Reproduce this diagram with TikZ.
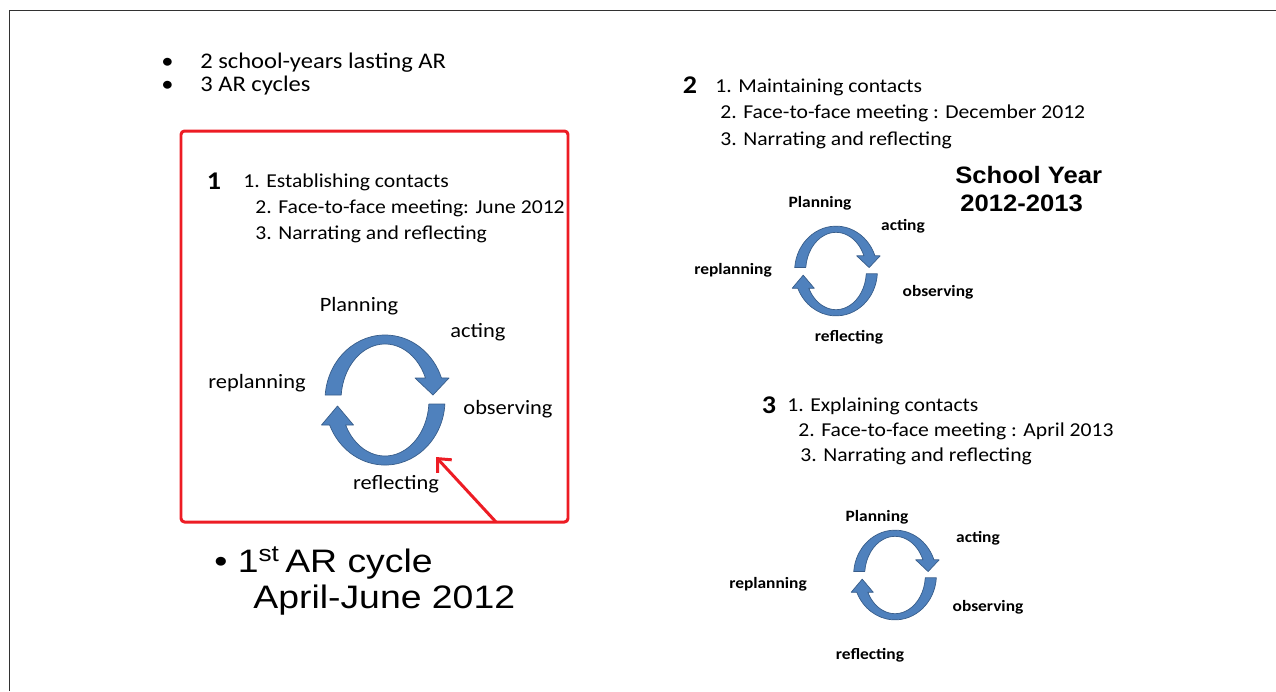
\documentclass[tikz,border=0pt]{standalone}
\usepackage{fontspec}
\setmainfont{Carlito}[FakeStretch=1.1]
\newfontfamily\arialfont{Liberation Sans}[FakeStretch=1.15]
\newfontfamily\yearfont{Liberation Sans}[FakeStretch=1.08]
\usetikzlibrary{arrows.meta}
\definecolor{arcblue}{RGB}{79,129,189}
\definecolor{arcedge}{RGB}{56,93,138}
\definecolor{boxred}{RGB}{237,28,36}
\definecolor{framegray}{RGB}{50,50,50}
\begin{document}
\begin{tikzpicture}[x=0.02cm, y=-0.02cm, line join=round,
    toptext/.style={anchor=west, inner sep=0pt, font=\fontsize{12.7}{15}\selectfont},
    listtext/.style={anchor=west, inner sep=0pt, font=\fontsize{11.2}{13}\selectfont},
    blocknum/.style={inner sep=0pt, font=\bfseries\fontsize{14.5}{17}\selectfont},
    labelbig/.style={inner sep=0pt, font=\fontsize{11.6}{14}\selectfont},
    labelsmall/.style={inner sep=0pt, font=\bfseries\fontsize{9}{11}\selectfont},
    bigtext/.style={anchor=west, inner sep=0pt, font=\arialfont\fontsize{18.5}{22}\selectfont},
    yeartext/.style={anchor=west, inner sep=0pt, font=\yearfont\bfseries\fontsize{13.5}{16}\selectfont},
    arcshape/.style={fill=arcblue, draw=arcedge, line width=0.4pt},
    arcycle/.pic={
        % upper arrow, left to right
        \path[arcshape] (-59.8,-5) arc[start angle=184.4, end angle=340.2, x radius=60, y radius=65]
            -- (64,-22) -- (48,-5) -- (30,-22) -- (40.5,-22)
            arc[start angle=336.9, end angle=185.1, x radius=44, y radius=56] -- cycle;
        % lower arrow, right to left
        \path[arcshape] (59.9,4) arc[start angle=3.5, end angle=157.4, x radius=60, y radius=65]
            -- (-63.5,25) -- (-47.5,6) -- (-31.5,25) -- (-39.4,25)
            arc[start angle=153.5, end angle=4.1, x radius=44, y radius=56] -- cycle;
    }]
    \useasboundingbox (0,0) rectangle (1276,691);

    % Outer frame
    \draw[framegray, line width=1.1pt] (9.5,691) -- (9.5,10.5) -- (1276,10.5);

    % Top bullets
    \node[toptext] (dot1) at (161,63) {\textbullet};
    \node[toptext] (dot2) at (161,86) {\textbullet};
    \node[toptext] (years) at (200,63) {2 school-years lasting AR};
    \node[toptext] (cycles) at (200,86) {3 AR cycles};

    % First cycle, in the red box
    \draw[boxred, line width=1.7pt, rounded corners=2pt] (181,131) rectangle (568,522);
    \node[blocknum] (N1) at (214,181) {1};
    \node[listtext] (L11) at (243,182) {1. Establishing contacts};
    \node[listtext] (L12) at (255,208) {2. Face-to-face meeting: June 2012};
    \node[listtext] (L13) at (255,234) {3. Narrating and reflecting};
    \pic at (385,400) {arcycle};
    \node[labelbig] (P1) at (359,306) {Planning};
    \node[labelbig] (A1) at (478,332) {acting};
    \node[labelbig] (R1) at (257,383) {replanning};
    \node[labelbig] (O1) at (508,409) {observing};
    \node[labelbig] (F1) at (396,484) {reflecting};

    % Red pointer
    \coordinate (T) at (496,522);
    \coordinate (H) at (436,457);
    \draw[boxred, line width=1.7pt, -{Straight Barb[length=6pt, width=11pt]}] (T) -- (H);

    % Caption under the box
    \node[bigtext] (cap1) at (214,563) {\textbullet\ 1\textsuperscript{st}\,AR cycle};
    \node[bigtext] (cap2) at (253,600) {April-June 2012};

    % Second cycle
    \node[blocknum] (N2) at (690,85) {2};
    \node[listtext] (L21) at (715,87) {1. Maintaining contacts};
    \node[listtext] (L22) at (720,113) {2. Face-to-face meeting : December 2012};
    \node[listtext] (L23) at (720,140) {3. Narrating and reflecting};
    \node[yeartext] (Y1) at (955,175) {School Year};
    \node[yeartext] (Y2) at (960,203) {2012-2013};
    \pic[scale=0.69] at (836,271) {arcycle};
    \node[labelsmall] (P2) at (820,203) {Planning};
    \node[labelsmall] (A2) at (903,226) {acting};
    \node[labelsmall] (R2) at (733,270) {replanning};
    \node[labelsmall] (O2) at (938,292) {observing};
    \node[labelsmall] (F2) at (849,337) {reflecting};

    % Third cycle
    \node[blocknum] (N3) at (769,405) {3};
    \node[listtext] (L31) at (787,406) {1. Explaining contacts};
    \node[listtext] (L32) at (798,431) {2. Face-to-face meeting : April 2013};
    \node[listtext] (L33) at (800,456) {3. Narrating and reflecting};
    \pic[scale=0.69] at (895,575) {arcycle};
    \node[labelsmall] (P3) at (877,517) {Planning};
    \node[labelsmall] (A3) at (978,538) {acting};
    \node[labelsmall] (R3) at (768,584) {replanning};
    \node[labelsmall] (O3) at (988,607) {observing};
    \node[labelsmall] (F3) at (870,655) {reflecting};
\end{tikzpicture}
\end{document}
